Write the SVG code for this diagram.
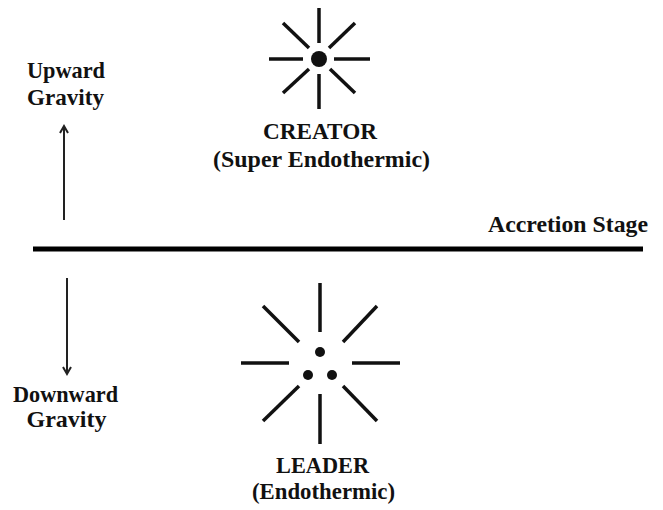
<svg xmlns="http://www.w3.org/2000/svg" width="663" height="510" viewBox="0 0 663 510">
<style>
.t{font-family:"Liberation Serif","Times New Roman",serif;font-weight:bold;font-size:23px;fill:#111;text-anchor:middle}
.ray{stroke:#111;stroke-width:3.5;stroke-linecap:butt;fill:none}
.arr{stroke:#222;stroke-width:2;fill:none}
</style>
<rect width="663" height="510" fill="#fff"/>
<g id="creator">
<g class="ray">
<line x1="319" y1="8" x2="319" y2="43"/>
<line x1="319" y1="74" x2="319" y2="109"/>
<line x1="269" y1="59" x2="303" y2="59"/>
<line x1="334" y1="59" x2="370" y2="59"/>
<line x1="283" y1="23" x2="309" y2="48"/>
<line x1="329" y1="48" x2="355" y2="23"/>
<line x1="283" y1="93" x2="309" y2="69"/>
<line x1="330" y1="69" x2="355" y2="93"/>
</g>
<circle cx="319" cy="59" r="8" fill="#111"/>
<text class="t" x="320" y="139" textLength="114" lengthAdjust="spacingAndGlyphs">CREATOR</text>
<text class="t" x="321.5" y="167" textLength="217" lengthAdjust="spacingAndGlyphs">(Super Endothermic)</text>
</g>
<g id="leader">
<g class="ray">
<line x1="320" y1="283" x2="320" y2="332"/>
<line x1="320" y1="394" x2="320" y2="444"/>
<line x1="241" y1="363" x2="289" y2="363"/>
<line x1="352" y1="363" x2="400" y2="363"/>
<line x1="263" y1="306" x2="299" y2="342"/>
<line x1="343" y1="342" x2="377" y2="306"/>
<line x1="263" y1="421" x2="299" y2="386"/>
<line x1="343" y1="386" x2="377" y2="421"/>
</g>
<circle cx="320" cy="352" r="5" fill="#111"/>
<circle cx="308" cy="375" r="5" fill="#111"/>
<circle cx="332" cy="375" r="5" fill="#111"/>
<text class="t" x="322.5" y="473" textLength="93" lengthAdjust="spacingAndGlyphs">LEADER</text>
<text class="t" x="323.5" y="499" textLength="143" lengthAdjust="spacingAndGlyphs">(Endothermic)</text>
</g>
<g id="accretion">
<line x1="33" y1="249" x2="643" y2="249" stroke="#000" stroke-width="5"/>
<text class="t" x="568" y="232" textLength="160" lengthAdjust="spacingAndGlyphs">Accretion Stage</text>
</g>
<g id="upward">
<text class="t" x="66" y="78" textLength="78" lengthAdjust="spacingAndGlyphs">Upward</text>
<text class="t" x="65.5" y="105" textLength="77" lengthAdjust="spacingAndGlyphs">Gravity</text>
</g>
<g id="downward">
<text class="t" x="65.5" y="402" textLength="105" lengthAdjust="spacingAndGlyphs">Downward</text>
<text class="t" x="66.5" y="427" textLength="80" lengthAdjust="spacingAndGlyphs">Gravity</text>
</g>
<g id="connectors">
<line class="arr" x1="64" y1="220" x2="64" y2="126"/>
<polyline class="arr" points="60,133 64,126 68,133"/>
<line class="arr" x1="67" y1="278" x2="67" y2="374"/>
<polyline class="arr" points="63,367 67,374 71,367"/>
</g>
</svg>
